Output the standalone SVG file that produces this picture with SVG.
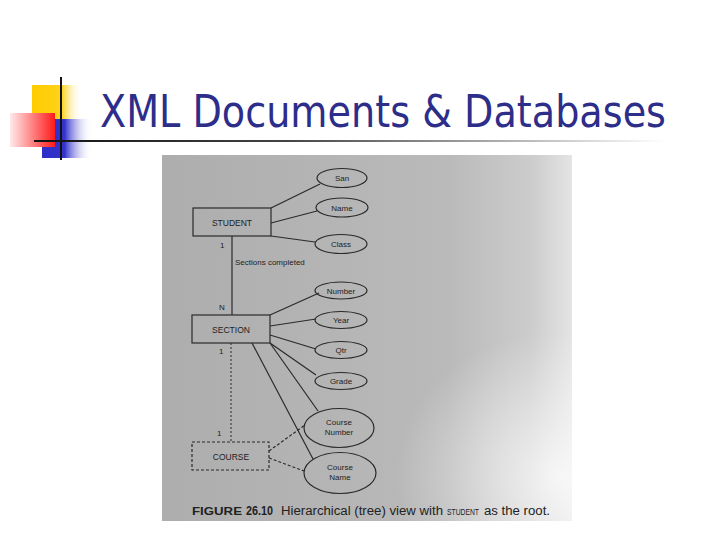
<svg xmlns="http://www.w3.org/2000/svg" width="720" height="540" viewBox="0 0 720 540">
<defs>
  <linearGradient id="yel" x1="0" x2="1" y1="0" y2="0">
    <stop offset="0" stop-color="#ffcc00"/>
    <stop offset="0.6" stop-color="#ffd21a"/>
    <stop offset="1" stop-color="#ffffff" stop-opacity="0"/>
  </linearGradient>
  <linearGradient id="blu" x1="0" x2="1" y1="0" y2="0">
    <stop offset="0" stop-color="#2e2ec8"/>
    <stop offset="0.45" stop-color="#3333cc"/>
    <stop offset="1" stop-color="#ffffff" stop-opacity="0"/>
  </linearGradient>
  <linearGradient id="red" x1="0" x2="1" y1="0" y2="0">
    <stop offset="0" stop-color="#ffeaea"/>
    <stop offset="1" stop-color="#ff1a1a"/>
  </linearGradient>
  <linearGradient id="rule" x1="0" x2="1" y1="0" y2="0">
    <stop offset="0" stop-color="#111111"/>
    <stop offset="0.4" stop-color="#444444"/>
    <stop offset="1" stop-color="#ffffff"/>
  </linearGradient>
  <linearGradient id="scan" x1="0" x2="1" y1="0" y2="0">
    <stop offset="0" stop-color="#adadad"/>
    <stop offset="0.7" stop-color="#bababa"/>
    <stop offset="0.9" stop-color="#cccccc"/>
    <stop offset="1" stop-color="#e4e4e4"/>
  </linearGradient>
  <radialGradient id="glow" cx="0.97" cy="0.88" r="0.4">
    <stop offset="0" stop-color="#ffffff" stop-opacity="0.75"/>
    <stop offset="1" stop-color="#ffffff" stop-opacity="0"/>
  </radialGradient>
  <style>
    .ln { stroke:#2a2a2a; stroke-width:1.2; fill:none; }
    .dl { stroke:#2a2a2a; stroke-width:1.2; fill:none; stroke-dasharray:3 2; }
    .dt { stroke:#2a2a2a; stroke-width:1; fill:none; stroke-dasharray:2 2; }
    .box { fill:none; stroke:#2a2a2a; stroke-width:1.2; }
    .ell { fill:none; stroke:#2a2a2a; stroke-width:1.2; }
    .t { font-family:"Liberation Sans", Arial, sans-serif; font-size:8px; fill:#222; text-anchor:middle; }
    .tb { font-family:"Liberation Sans", Arial, sans-serif; font-size:8.5px; fill:#222; text-anchor:middle; }
    .lab { font-family:"Liberation Sans", Arial, sans-serif; font-size:8px; fill:#222; }
  </style>
</defs>

<rect width="720" height="540" fill="#ffffff"/>

<g id="logo">
  <rect x="32" y="85" width="50" height="34" fill="url(#yel)"/>
  <rect x="42" y="119" width="50" height="39" fill="url(#blu)"/>
  <rect x="10" y="113" width="45" height="34" fill="url(#red)"/>
  <line x1="61" y1="77" x2="61" y2="160" stroke="#111" stroke-width="2"/>
  <rect x="34" y="140" width="632" height="2" fill="url(#rule)"/>
</g>

<text id="title" x="100" y="127" font-family="Tahoma, 'DejaVu Sans', sans-serif" font-size="45" fill="#2d2d8a" textLength="566" lengthAdjust="spacingAndGlyphs">XML Documents &amp; Databases</text>

<g id="scan">
  <rect x="162" y="155" width="410" height="366" fill="url(#scan)"/>
  <rect x="162" y="155" width="410" height="366" fill="url(#glow)"/>
</g>

<g id="connectors">
  <line class="ln" x1="271" y1="208" x2="320" y2="184"/>
  <line class="ln" x1="271" y1="223" x2="317" y2="211"/>
  <line class="ln" x1="271" y1="236" x2="315" y2="242"/>
  <line class="ln" x1="232" y1="236" x2="232" y2="315"/>
  <line class="ln" x1="270" y1="315" x2="319" y2="293"/>
  <line class="ln" x1="270" y1="326" x2="316" y2="319"/>
  <line class="ln" x1="270" y1="335" x2="316" y2="349"/>
  <line class="ln" x1="270" y1="343" x2="316" y2="375"/>
  <line class="ln" x1="270" y1="343" x2="318" y2="411"/>
  <line class="ln" x1="252" y1="343" x2="313" y2="459"/>
  <line class="dt" x1="231" y1="343" x2="231" y2="442"/>
  <line class="dl" x1="269" y1="451" x2="305" y2="425"/>
  <line class="dl" x1="269" y1="458" x2="304" y2="471"/>
</g>

<g id="student">
  <rect class="box" x="193" y="208" width="78" height="28"/>
  <text class="tb" x="232" y="226">STUDENT</text>
</g>
<g id="san"><ellipse class="ell" cx="342" cy="178" rx="25" ry="9.5"/><text class="t" x="342" y="181">San</text></g>
<g id="name"><ellipse class="ell" cx="342" cy="207.5" rx="26" ry="9.5"/><text class="t" x="342" y="210.5">Name</text></g>
<g id="class"><ellipse class="ell" cx="341" cy="244" rx="26" ry="9.5"/><text class="t" x="341" y="247">Class</text></g>

<g id="section">
  <rect class="box" x="192" y="315" width="78" height="28"/>
  <text class="tb" x="231" y="333">SECTION</text>
</g>
<g id="number"><ellipse class="ell" cx="341" cy="290.5" rx="26" ry="8.5"/><text class="t" x="341" y="293.5">Number</text></g>
<g id="year"><ellipse class="ell" cx="341" cy="320" rx="26" ry="8.5"/><text class="t" x="341" y="323">Year</text></g>
<g id="qtr"><ellipse class="ell" cx="341" cy="350" rx="26" ry="8.5"/><text class="t" x="341" y="353">Qtr</text></g>
<g id="grade"><ellipse class="ell" cx="341" cy="381" rx="26" ry="8.5"/><text class="t" x="341" y="384">Grade</text></g>

<g id="course">
  <rect class="box" x="192" y="442" width="77" height="28" stroke-dasharray="3 2"/>
  <text class="tb" x="231" y="460">COURSE</text>
</g>
<g id="coursenumber"><ellipse class="ell" cx="339" cy="428" rx="35" ry="19.5"/><text class="t" x="339" y="425">Course</text><text class="t" x="339" y="435">Number</text></g>
<g id="coursename"><ellipse class="ell" cx="340" cy="473" rx="36" ry="20.5"/><text class="t" x="340" y="470">Course</text><text class="t" x="340" y="480">Name</text></g>

<g id="labels">
  <text class="lab" x="220" y="248">1</text>
  <text class="lab" x="235" y="265">Sections completed</text>
  <text class="lab" x="219" y="310">N</text>
  <text class="lab" x="219" y="354">1</text>
  <text class="lab" x="217" y="436">1</text>
</g>

<g id="caption" font-family="'Liberation Sans', Arial, sans-serif" fill="#222">
  <text x="192" y="515" font-size="10" font-weight="bold" textLength="50" lengthAdjust="spacingAndGlyphs">FIGURE</text>
  <text x="246" y="515" font-size="13" font-weight="bold" textLength="27" lengthAdjust="spacingAndGlyphs">26.10</text>
  <text x="281" y="515" font-size="12" textLength="162" lengthAdjust="spacingAndGlyphs">Hierarchical (tree) view with</text>
  <text x="447" y="515" font-size="8.5" textLength="32" lengthAdjust="spacingAndGlyphs">STUDENT</text>
  <text x="484" y="515" font-size="12" textLength="66" lengthAdjust="spacingAndGlyphs">as the root.</text>
</g>
</svg>
